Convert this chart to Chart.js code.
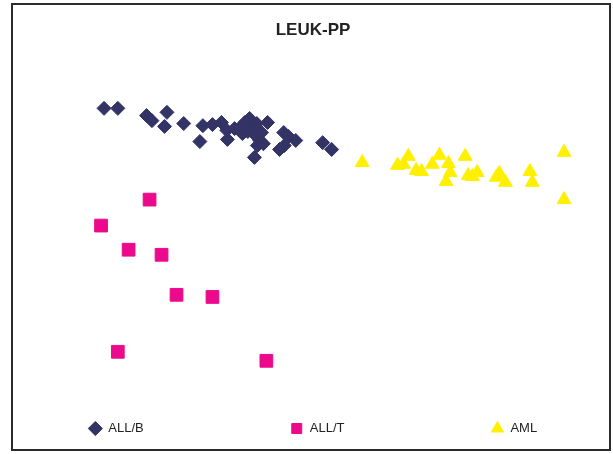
<!DOCTYPE html>
<html>
<head>
<meta charset="utf-8">
<script src="https://cdn.jsdelivr.net/npm/chart.js@4"></script>
<style>
    body { margin: 0; background: #fff; }
    #wrap { width: 613px; height: 454px; }
</style>
</head>
<body>
<div id="wrap"><canvas id="grafico" width="613" height="454"></canvas></div>
<script>
// Projeção LEUK-PP (coordenadas, eixos sem escala)
const allB_x = [15.2, 17.5, 22.3, 23.2, 25.7, 25.3, 28.5, 31.7, 33.3, 34.8, 31.2, 35.8, 35.7, 37.0, 37.8, 38.7, 39.5, 38.3,
    39.2, 40.0, 40.5, 41.2, 41.5, 40.8, 41.8, 40.7, 42.5, 40.3, 45.2, 46.0, 47.2, 44.5, 45.3, 51.7, 53.2];
const allB_y = [84.2, 84.2, 82.2, 80.8, 83.1, 79.2, 80.0, 79.4, 79.7, 80.3, 75.0, 75.6, 78.1, 78.6, 78.6, 80.3, 81.4, 77.2,
    77.8, 79.2, 76.7, 75.3, 77.5, 73.9, 74.4, 80.0, 80.3, 70.6, 77.5, 76.4, 75.3, 72.8, 73.9, 74.7, 72.8];

const allT_x = [22.8, 14.7, 19.3, 24.8, 27.3, 33.3, 17.5, 42.3];
const allT_y = [58.9, 51.7, 45.0, 43.6, 32.5, 31.9, 16.7, 14.2];

const aml_x = [58.3, 64.2, 65.2, 66.0, 67.3, 68.2, 70.0, 71.2, 72.7, 73.0, 72.3, 75.5, 76.0, 76.7, 77.5, 80.7, 81.2, 82.2,
    86.3, 86.7, 92.0, 92.0];
const aml_y = [69.2, 68.4, 68.7, 70.9, 67.0, 66.7, 68.7, 71.2, 68.9, 66.4, 63.9, 70.9, 65.6, 65.3, 66.4, 65.1, 66.2, 63.7,
    66.7, 63.7, 72.0, 58.9];

const grupos = ['ALL/B', 'ALL/T', 'AML'];

function pontos(xs, ys) {
    return xs.map((x, i) => ({ x: x, y: ys[i] }));
}

// moldura em volta do gráfico
const moldura = {
    id: 'moldura',
    afterDraw(chart) {
        const ctx = chart.ctx;
        ctx.save();
        ctx.strokeStyle = '#2b2b2b';
        ctx.lineWidth = 2;
        ctx.strokeRect(12, 4, 598, 446);
        ctx.restore();
    }
};

const fonte = "'Liberation Sans', Arial, sans-serif";

new Chart(document.getElementById('grafico').getContext('2d'), {
    type: 'scatter',
    data: {
        datasets: [{
            label: grupos[0],
            data: pontos(allB_x, allB_y),
            pointStyle: 'rectRot',
            pointRadius: 7,
            backgroundColor: '#333366',
            borderColor: '#333366',
            borderWidth: 1
        },
        {
            label: grupos[1],
            data: pontos(allT_x, allT_y),
            pointStyle: 'rect',
            pointRadius: 9,
            backgroundColor: '#ec0a8c',
            borderColor: '#ec0a8c',
            borderWidth: 1
        },
        {
            label: grupos[2],
            data: pontos(aml_x, aml_y),
            pointStyle: 'triangle',
            pointRadius: 8,
            backgroundColor: '#fff000',
            borderColor: '#fff000',
            borderWidth: 1
        }]
    },
    options: {
        responsive: false,
        animation: false,
        layout: {
            padding: { left: 13, right: 0, top: 0, bottom: 9 }
        },
        plugins: {
            title: {
                display: true,
                text: 'LEUK-PP',
                color: '#222',
                font: { family: fonte, size: 17, weight: 'bold' },
                padding: { top: 20, bottom: 11 }
            },
            legend: {
                position: 'bottom',
                labels: {
                    usePointStyle: true,
                    boxHeight: 10,
                    padding: 10,
                    color: '#222',
                    font: { family: fonte, size: 13 },
                    // espaçamento largo entre os itens, como no original
                    generateLabels(chart) {
                        const itens = Chart.defaults.plugins.legend.labels.generateLabels(chart);
                        itens.forEach((it, i) => {
                            if (i < itens.length - 1) it.text = it.text + '\u2002'.repeat(21);
                        });
                        return itens;
                    }
                }
            },
            tooltip: { enabled: false }
        },
        scales: {
            x: { display: false, min: 0, max: 98.5 },
            y: { display: false, min: 0, max: 100 }
        }
    },
    plugins: [moldura]
});
</script>
</body>
</html>
